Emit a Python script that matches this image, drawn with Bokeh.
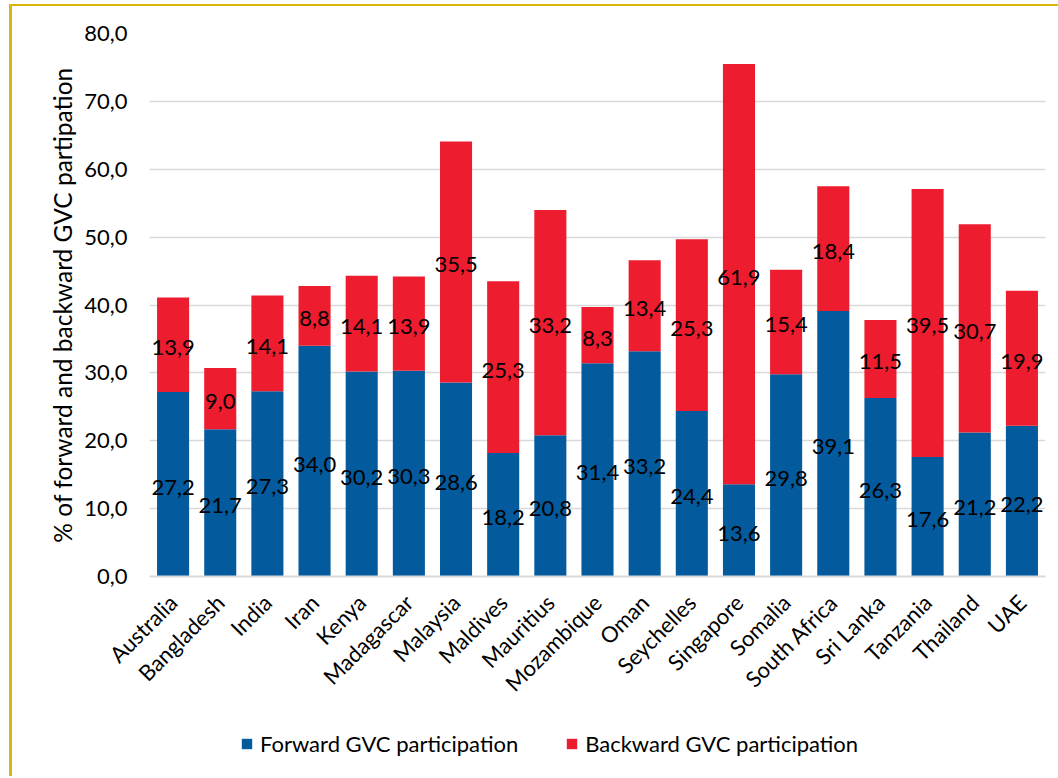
from math import pi
from bokeh.plotting import figure
from bokeh.layouts import column
from bokeh.models import (ColumnDataSource, Legend, LegendItem, FixedTicker,
                          CustomJSTickFormatter, Range1d, FactorRange)
from bokeh.core.properties import value
from bokeh.embed import file_html
from bokeh.resources import INLINE

countries = ["Australia", "Bangladesh", "India", "Iran", "Kenya", "Madagascar",
             "Malaysia", "Maldives", "Mauritius", "Mozambique", "Oman", "Seychelles",
             "Singapore", "Somalia", "South Africa", "Sri Lanka", "Tanzania",
             "Thailand", "UAE"]
forward = [27.2, 21.7, 27.3, 34.0, 30.2, 30.3, 28.6, 18.2, 20.8, 31.4, 33.2, 24.4,
           13.6, 29.8, 39.1, 26.3, 17.6, 21.2, 22.2]
backward = [13.9, 9.0, 14.1, 8.8, 14.1, 13.9, 35.5, 25.3, 33.2, 8.3, 13.4, 25.3,
            61.9, 15.4, 18.4, 11.5, 39.5, 30.7, 19.9]
y_ticks = [0, 10, 20, 30, 40, 50, 60, 70, 80]
series_names = ["Forward GVC participation", "Backward GVC participation"]

BLUE = "#035A9D"
RED = "#ED1C2E"
GOLD = "#D9B70A"
FONT = "Lato"
W = 1046

def fmt(v):
    return f"{v:.1f}".replace(".", ",")

src = ColumnDataSource(dict(
    country=countries,
    forward=forward,
    backward=backward,
    f_mid=[f / 2 for f in forward],
    b_mid=[f + b / 2 for f, b in zip(forward, backward)],
    f_lab=[fmt(f) for f in forward],
    b_lab=[fmt(b) for b in backward],
))

p = figure(x_range=FactorRange(*countries, range_padding=0),
           y_range=Range1d(0, 80),
           width=W, height=720,
           output_backend="svg", toolbar_location=None,
           min_border_left=137, min_border_right=13,
           min_border_top=27, min_border_bottom=150)
p.outline_line_color = None
p.background_fill_color = "white"
p.border_fill_color = "white"

rs = p.vbar_stack(["forward", "backward"], x="country", width=0.68, source=src,
                  color=[BLUE, RED], line_color=None)

for ycol, tcol in (("f_mid", "f_lab"), ("b_mid", "b_lab")):
    p.text(x="country", y=ycol, text=tcol, source=src,
           text_align="center", text_baseline="middle", y_offset=3,
           text_font=value(FONT), text_font_size="22px", text_color="black")

p.xgrid.grid_line_color = None
p.ygrid.grid_line_color = "#D9D9D9"
p.ygrid.grid_line_width = 1.5

p.yaxis.ticker = FixedTicker(ticks=y_ticks)
p.yaxis.formatter = CustomJSTickFormatter(code="return tick.toFixed(1).replace('.', ',');")
p.yaxis.axis_line_color = None
p.yaxis.major_tick_line_color = None
p.yaxis.minor_tick_line_color = None
p.yaxis.major_tick_out = 0
p.yaxis.major_label_standoff = 22
p.yaxis.major_label_text_font = FONT
p.yaxis.major_label_text_font_size = "22px"
p.yaxis.major_label_text_color = "black"
p.yaxis.axis_label = "% of forward and backward GVC partipation"
p.yaxis.axis_label_text_font = FONT
p.yaxis.axis_label_text_font_size = "24.5px"
p.yaxis.axis_label_text_font_style = "normal"
p.yaxis.axis_label_text_color = "black"
p.yaxis.axis_label_standoff = 4

p.xaxis.axis_line_color = "#D9D9D9"
p.xaxis.axis_line_width = 2
p.xaxis.major_tick_line_color = None
p.xaxis.major_tick_out = 0
p.xaxis.major_label_orientation = pi / 4
p.xaxis.major_label_standoff = 22
p.xaxis.major_label_text_font = FONT
p.xaxis.major_label_text_font_size = "22px"
p.xaxis.major_label_text_color = "black"

# legend strip below the chart (its frame is aligned with the chart's frame)
lp = figure(width=W, height=50, x_range=Range1d(0, 1), y_range=Range1d(0, 1),
            x_axis_type=None, y_axis_type=None,
            output_backend="svg", toolbar_location=None, min_border=0)
lp.outline_line_color = None
lp.xgrid.visible = False
lp.ygrid.visible = False
lf = lp.vbar(x=[-10], top=[0], width=0.5, color=BLUE, line_color=None)
lb = lp.vbar(x=[-10], top=[0], width=0.5, color=RED, line_color=None)
legend = Legend(items=[LegendItem(label=series_names[0], renderers=[lf]),
                       LegendItem(label=series_names[1], renderers=[lb])],
                orientation="horizontal", location=(91, 19),
                glyph_width=13, glyph_height=13, label_standoff=7, spacing=47,
                padding=0, margin=0,
                border_line_color=None, background_fill_alpha=0,
                label_text_font=FONT, label_text_font_size="22px",
                label_text_color="black")
lp.add_layout(legend, "center")

layout = column(p, lp, spacing=0)
layout.margin = (4, 0, 0, 9)
layout.styles = {"border-top": f"2px solid {GOLD}", "border-left": f"3px solid {GOLD}",
                 "background-color": "white"}

open("out.html", "w").write(file_html(layout, INLINE))
